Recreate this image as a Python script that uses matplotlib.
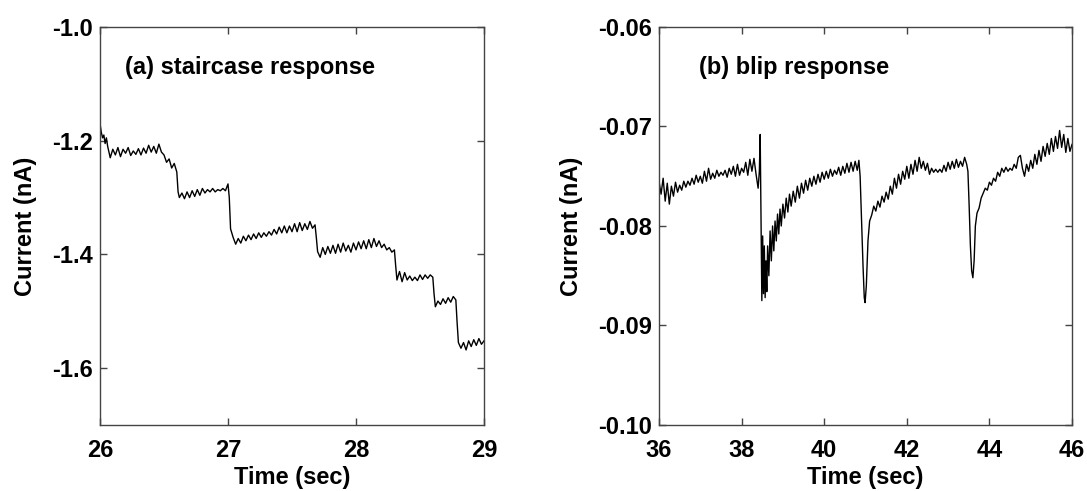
import numpy as np
import matplotlib.pyplot as plt

# (a) staircase response, time in sec, current in nA
t_a = [26.00, 26.01, 26.02, 26.03, 26.04, 26.05, 26.06, 26.08, 26.10, 26.12,
       26.14, 26.16, 26.18, 26.20, 26.22, 26.24, 26.26, 26.28, 26.30, 26.32,
       26.34, 26.36, 26.38, 26.40, 26.42, 26.44, 26.46, 26.48, 26.50, 26.52,
       26.54, 26.56, 26.58, 26.60, 26.61, 26.62, 26.64, 26.66, 26.68, 26.70,
       26.72, 26.74, 26.76, 26.78, 26.80, 26.82, 26.84, 26.86, 26.88, 26.90,
       26.92, 26.94, 26.96, 26.98, 27.00, 27.01, 27.02, 27.04, 27.06, 27.08,
       27.10, 27.12, 27.14, 27.16, 27.18, 27.20, 27.22, 27.24, 27.26, 27.28,
       27.30, 27.32, 27.34, 27.36, 27.38, 27.40, 27.42, 27.44, 27.46, 27.48,
       27.50, 27.52, 27.54, 27.56, 27.58, 27.60, 27.62, 27.64, 27.66, 27.68,
       27.69, 27.70, 27.72, 27.74, 27.76, 27.78, 27.80, 27.82, 27.84, 27.86,
       27.88, 27.90, 27.92, 27.94, 27.96, 27.98, 28.00, 28.02, 28.04, 28.06,
       28.08, 28.10, 28.12, 28.14, 28.16, 28.18, 28.20, 28.22, 28.24, 28.26,
       28.28, 28.30, 28.31, 28.32, 28.34, 28.36, 28.38, 28.40, 28.42, 28.44,
       28.46, 28.48, 28.50, 28.52, 28.54, 28.56, 28.58, 28.60, 28.61, 28.62,
       28.64, 28.66, 28.68, 28.70, 28.72, 28.74, 28.76, 28.78, 28.79, 28.80,
       28.82, 28.84, 28.86, 28.88, 28.90, 28.92, 28.94, 28.96, 28.98, 29.00]
i_a = [-1.170, -1.185, -1.195, -1.190, -1.205, -1.195, -1.210, -1.230, -1.215, -1.225,
       -1.212, -1.228, -1.215, -1.222, -1.212, -1.226, -1.218, -1.224, -1.214, -1.225,
       -1.213, -1.222, -1.208, -1.220, -1.210, -1.222, -1.206, -1.220, -1.225, -1.238,
       -1.232, -1.248, -1.240, -1.255, -1.290, -1.300, -1.292, -1.302, -1.290, -1.300,
       -1.288, -1.298, -1.286, -1.296, -1.284, -1.292, -1.286, -1.290, -1.284, -1.290,
       -1.286, -1.288, -1.284, -1.288, -1.276, -1.300, -1.355, -1.370, -1.382, -1.372,
       -1.380, -1.368, -1.376, -1.366, -1.374, -1.364, -1.372, -1.362, -1.370, -1.362,
       -1.368, -1.360, -1.366, -1.356, -1.364, -1.352, -1.362, -1.350, -1.362, -1.350,
       -1.360, -1.346, -1.360, -1.344, -1.358, -1.346, -1.356, -1.342, -1.354, -1.348,
       -1.370, -1.395, -1.405, -1.388, -1.400, -1.386, -1.398, -1.384, -1.398, -1.382,
       -1.396, -1.380, -1.394, -1.384, -1.396, -1.380, -1.392, -1.378, -1.390, -1.376,
       -1.390, -1.374, -1.388, -1.372, -1.386, -1.376, -1.388, -1.382, -1.392, -1.388,
       -1.396, -1.392, -1.420, -1.445, -1.430, -1.448, -1.432, -1.445, -1.438, -1.446,
       -1.440, -1.446, -1.436, -1.444, -1.436, -1.442, -1.436, -1.440, -1.470, -1.492,
       -1.482, -1.488, -1.478, -1.486, -1.476, -1.484, -1.474, -1.480, -1.520, -1.555,
       -1.565, -1.555, -1.568, -1.552, -1.562, -1.550, -1.560, -1.548, -1.558, -1.552]

# (b) blip response
t_b = [36.00, 36.05, 36.10, 36.15, 36.20, 36.25, 36.30, 36.35, 36.40, 36.45,
       36.50, 36.55, 36.60, 36.65, 36.70, 36.75, 36.80, 36.85, 36.90, 36.95,
       37.00, 37.05, 37.10, 37.15, 37.20, 37.25, 37.30, 37.35, 37.40, 37.45,
       37.50, 37.55, 37.60, 37.65, 37.70, 37.75, 37.80, 37.85, 37.90, 37.95,
       38.00, 38.05, 38.10, 38.15, 38.20, 38.25, 38.30, 38.35, 38.40, 38.43,
       38.45, 38.47, 38.49, 38.51, 38.53, 38.55, 38.57, 38.59, 38.61, 38.63,
       38.66, 38.69, 38.72, 38.75, 38.78, 38.81, 38.84, 38.87, 38.90, 38.93,
       38.96, 39.00, 39.04, 39.08, 39.12, 39.16, 39.20, 39.25, 39.30, 39.35,
       39.40, 39.45, 39.50, 39.55, 39.60, 39.65, 39.70, 39.75, 39.80, 39.85,
       39.90, 39.95, 40.00, 40.05, 40.10, 40.15, 40.20, 40.25, 40.30, 40.35,
       40.40, 40.45, 40.50, 40.55, 40.60, 40.65, 40.70, 40.75, 40.80, 40.84,
       40.87, 40.90, 40.94, 40.97, 40.99, 41.02, 41.06, 41.10, 41.15, 41.20,
       41.25, 41.30, 41.35, 41.40, 41.45, 41.50, 41.55, 41.60, 41.65, 41.70,
       41.75, 41.80, 41.85, 41.90, 41.95, 42.00, 42.05, 42.10, 42.15, 42.20,
       42.25, 42.30, 42.35, 42.40, 42.45, 42.50, 42.55, 42.60, 42.65, 42.70,
       42.75, 42.80, 42.85, 42.90, 42.95, 43.00, 43.05, 43.10, 43.15, 43.20,
       43.25, 43.30, 43.35, 43.40, 43.45, 43.48, 43.51, 43.54, 43.57, 43.60,
       43.63, 43.66, 43.70, 43.75, 43.80, 43.85, 43.90, 43.95, 44.00, 44.05,
       44.10, 44.15, 44.20, 44.25, 44.30, 44.35, 44.40, 44.45, 44.50, 44.55,
       44.60, 44.65, 44.70, 44.75, 44.80, 44.85, 44.90, 44.95, 45.00, 45.05,
       45.10, 45.15, 45.20, 45.25, 45.30, 45.35, 45.40, 45.45, 45.50, 45.55,
       45.60, 45.65, 45.70, 45.75, 45.80, 45.85, 45.90, 45.95, 46.00]
i_b = [-0.0755, -0.0768, -0.0752, -0.0775, -0.0757, -0.0778, -0.0760, -0.0770, -0.0756, -0.0766,
       -0.0759, -0.0764, -0.0755, -0.0761, -0.0755, -0.0759, -0.0752, -0.0758, -0.0749, -0.0756,
       -0.0750, -0.0757, -0.0745, -0.0755, -0.0742, -0.0753, -0.0747, -0.0752, -0.0744, -0.0750,
       -0.0746, -0.0749, -0.0744, -0.0751, -0.0742, -0.0748, -0.0740, -0.0750, -0.0738, -0.0749,
       -0.0742, -0.0746, -0.0736, -0.0749, -0.0733, -0.0745, -0.0732, -0.0748, -0.0762, -0.0745,
       -0.0708, -0.0790, -0.0875, -0.0810, -0.0868, -0.0820, -0.0872, -0.0835, -0.0866, -0.0820,
       -0.0850, -0.0805, -0.0835, -0.0800, -0.0825, -0.0795, -0.0815, -0.0788, -0.0808, -0.0783,
       -0.0800, -0.0778, -0.0792, -0.0772, -0.0786, -0.0768, -0.0780, -0.0765, -0.0776, -0.0760,
       -0.0772, -0.0757, -0.0767, -0.0754, -0.0764, -0.0752, -0.0760, -0.0750, -0.0758, -0.0748,
       -0.0756, -0.0746, -0.0753, -0.0745, -0.0752, -0.0743, -0.0750, -0.0744, -0.0748, -0.0741,
       -0.0749, -0.0740, -0.0747, -0.0737, -0.0746, -0.0736, -0.0745, -0.0735, -0.0744, -0.0734,
       -0.0750, -0.0790, -0.0840, -0.0872, -0.0877, -0.0860, -0.0815, -0.0795, -0.0789, -0.0780,
       -0.0785, -0.0775, -0.0781, -0.0770, -0.0776, -0.0766, -0.0773, -0.0760, -0.0768, -0.0752,
       -0.0762, -0.0748, -0.0758, -0.0745, -0.0753, -0.0740, -0.0752, -0.0738, -0.0748, -0.0734,
       -0.0745, -0.0731, -0.0742, -0.0735, -0.0744, -0.0737, -0.0748, -0.0742, -0.0746, -0.0743,
       -0.0746, -0.0743, -0.0746, -0.0739, -0.0745, -0.0736, -0.0743, -0.0735, -0.0742, -0.0733,
       -0.0741, -0.0735, -0.0740, -0.0731, -0.0738, -0.0745, -0.0780, -0.0820, -0.0845, -0.0852,
       -0.0835, -0.0800, -0.0787, -0.0782, -0.0772, -0.0767, -0.0762, -0.0764, -0.0756, -0.0759,
       -0.0752, -0.0755, -0.0746, -0.0750, -0.0742, -0.0746, -0.0741, -0.0745, -0.0742, -0.0744,
       -0.0738, -0.0742, -0.0731, -0.0729, -0.0742, -0.0750, -0.0738, -0.0745, -0.0734, -0.0742,
       -0.0728, -0.0738, -0.0724, -0.0735, -0.0720, -0.0730, -0.0717, -0.0728, -0.0712, -0.0725,
       -0.0710, -0.0722, -0.0704, -0.0721, -0.0708, -0.0726, -0.0712, -0.0725, -0.0718]

ticks_a_x = [26, 27, 28, 29]
ticks_a_y = [-1.6, -1.4, -1.2, -1.0]
ticks_b_x = [36, 38, 40, 42, 44, 46]
ticks_b_y = [-0.10, -0.09, -0.08, -0.07, -0.06]

plt.rcParams['font.family'] = ['Liberation Sans', 'DejaVu Sans']
plt.rcParams['font.weight'] = 'bold'

FS = 17

fig = plt.figure(figsize=(10.87, 4.91), dpi=100)
ax1 = fig.add_axes([100 / 1087, 66 / 491, 384 / 1087, 398 / 491])
ax2 = fig.add_axes([659 / 1087, 66 / 491, 413 / 1087, 398 / 491])

for ax in (ax1, ax2):
    for s in ax.spines.values():
        s.set_color('#444444')
        s.set_linewidth(1.0)
    ax.tick_params(direction='in', top=True, right=True, length=5, width=1,
                   color='#444444', labelsize=FS)
    ax.tick_params(axis='x', pad=10)
    ax.tick_params(axis='y', pad=5)

ax1.plot(t_a, i_a, color='black', lw=1.0)
ax1.set_xlim(26, 29)
ax1.set_ylim(-1.7, -1.0)
ax1.set_xticks(ticks_a_x)
ax1.set_yticks(ticks_a_y)
ax1.set_yticklabels(['%.1f' % v for v in ticks_a_y], fontweight='bold')
ax1.set_xticklabels([str(v) for v in ticks_a_x], fontweight='bold')
ax1.set_xlabel('Time (sec)', fontsize=FS, fontweight='bold', labelpad=3)
ax1.set_ylabel('Current (nA)', fontsize=FS, fontweight='bold', labelpad=11)
ax1.text(0.065, 0.897, '(a) staircase response', transform=ax1.transAxes,
         fontsize=FS, fontweight='bold', va='center')

ax2.plot(t_b, i_b, color='black', lw=1.0)
ax2.set_xlim(36, 46)
ax2.set_ylim(-0.10, -0.06)
ax2.set_xticks(ticks_b_x)
ax2.set_yticks(ticks_b_y)
ax2.set_yticklabels(['%.2f' % v for v in ticks_b_y], fontweight='bold')
ax2.set_xticklabels([str(v) for v in ticks_b_x], fontweight='bold')
ax2.set_xlabel('Time (sec)', fontsize=FS, fontweight='bold', labelpad=3)
ax2.set_ylabel('Current (nA)', fontsize=FS, fontweight='bold', labelpad=11)
ax2.text(0.097, 0.897, '(b) blip response', transform=ax2.transAxes,
         fontsize=FS, fontweight='bold', va='center')

fig.savefig('out.png', dpi=100)
